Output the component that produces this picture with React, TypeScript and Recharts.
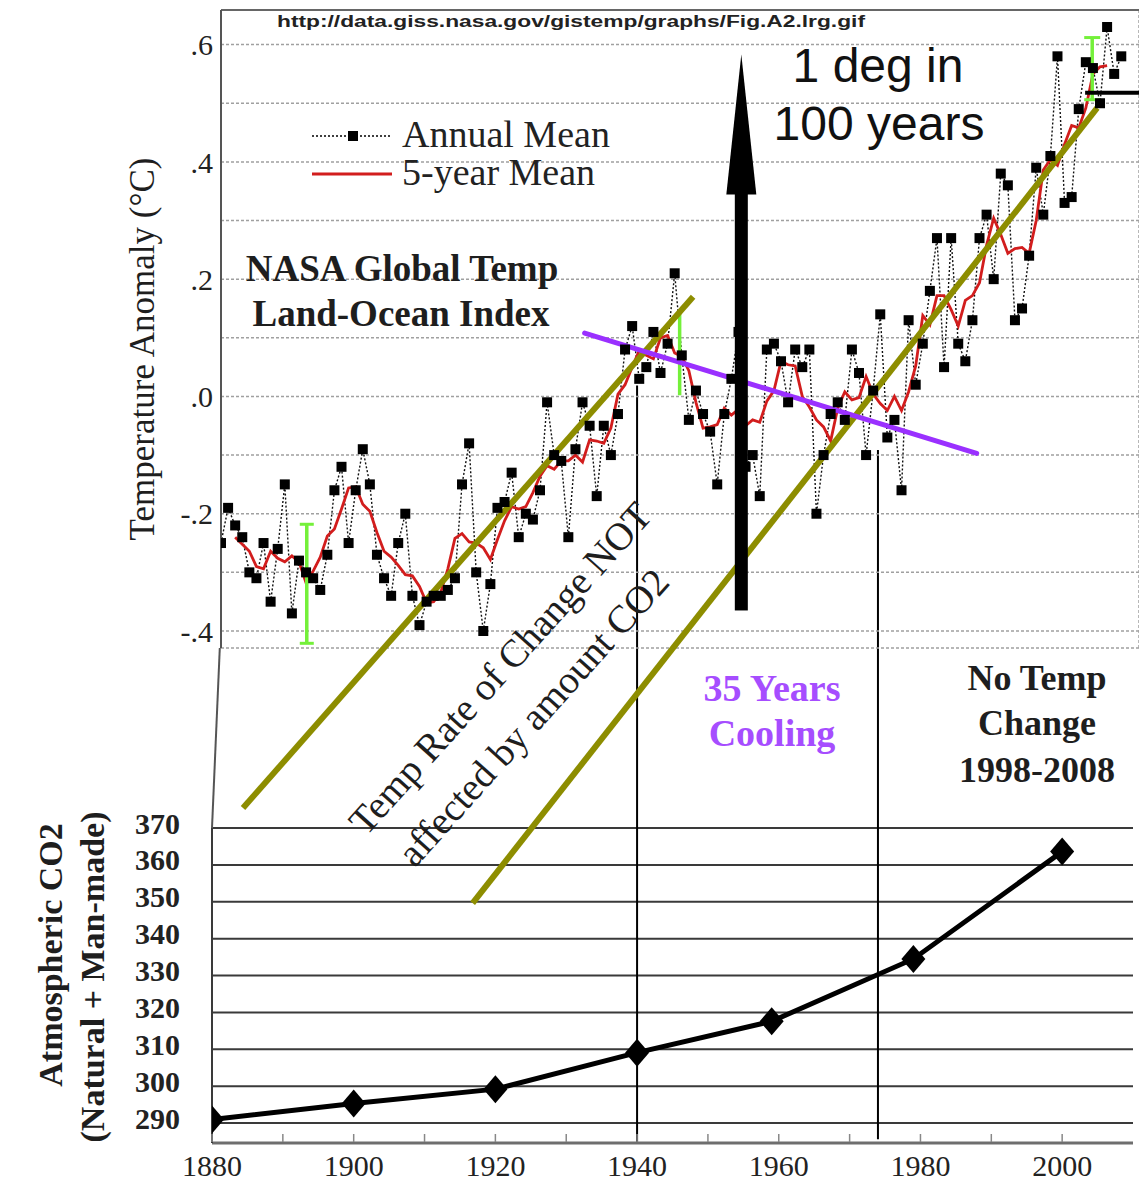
import React from "react";
import {
  ComposedChart,
  Line,
  XAxis,
  YAxis,
  CartesianGrid,
  ReferenceLine,
  Legend,
} from "recharts";

const SERIF = '"Liberation Serif", "Times New Roman", Times, serif';
const SANS = '"Liberation Sans", Arial, Helvetica, sans-serif';

const RED = "#d21d1d";
const OLIVE = "#8d8d00";
const PURPLE = "#9a30ff";
const LIME = "#74f03a";

// NASA GISS land-ocean index, annual mean, 1880..2007
const FIRST_YEAR = 1880;
const ANNUAL_MEAN = [
  -0.25, -0.19, -0.22, -0.24, -0.30, -0.31, -0.25, -0.35, -0.26, -0.15,
  -0.37, -0.28, -0.30, -0.31, -0.33, -0.27, -0.16, -0.12, -0.25, -0.16,
  -0.09, -0.15, -0.27, -0.31, -0.34, -0.25, -0.20, -0.34, -0.39, -0.35,
  -0.34, -0.34, -0.33, -0.31, -0.15, -0.08, -0.30, -0.40, -0.32, -0.19,
  -0.18, -0.13, -0.24, -0.20, -0.21, -0.16, -0.01, -0.10, -0.11, -0.24,
  -0.09, -0.01, -0.05, -0.17, -0.05, -0.10, -0.03, 0.08, 0.12, 0.03,
  0.05, 0.11, 0.04, 0.09, 0.21, 0.07, -0.04, 0.01, -0.03, -0.06,
  -0.15, -0.03, 0.03, 0.11, -0.12, -0.10, -0.17, 0.08, 0.09, 0.06,
  -0.01, 0.08, 0.05, 0.08, -0.20, -0.10, -0.03, -0.01, -0.04, 0.08,
  0.04, -0.10, 0.01, 0.14, -0.07, -0.04, -0.16, 0.13, 0.02, 0.09,
  0.18, 0.27, 0.05, 0.27, 0.09, 0.06, 0.13, 0.27, 0.31, 0.20,
  0.38, 0.36, 0.13, 0.15, 0.24, 0.39, 0.31, 0.41, 0.58, 0.33,
  0.34, 0.49, 0.57, 0.56, 0.50, 0.63, 0.55, 0.58,
];

// red 5-year mean, 1882..2005
const FIVE_YEAR_START = 1882;
const FIVE_YEAR_MEAN = [
  -0.240, -0.252, -0.264, -0.290, -0.294, -0.264, -0.276, -0.282,
  -0.272, -0.282, -0.318, -0.298, -0.274, -0.238, -0.226, -0.192, -0.156, -0.154,
  -0.184, -0.196, -0.232, -0.264, -0.274, -0.288, -0.304, -0.306, -0.324, -0.352,
  -0.350, -0.334, -0.294, -0.242, -0.234, -0.248, -0.250, -0.258, -0.278, -0.244,
  -0.212, -0.188, -0.192, -0.188, -0.164, -0.136, -0.118, -0.124, -0.110, -0.110,
  -0.100, -0.112, -0.074, -0.076, -0.080, -0.054, 0.004, 0.020, 0.050, 0.078,
  0.070, 0.064, 0.100, 0.104, 0.074, 0.068, 0.044, -0.010, -0.054, -0.052,
  -0.048, -0.020, -0.032, -0.022, -0.050, -0.040, -0.044, -0.008, 0.010, 0.060,
  0.054, 0.052, 0.000, -0.018, -0.040, -0.052, -0.076, -0.020, 0.008, -0.006,
  -0.002, 0.034, 0.004, -0.012, -0.024, 0.000, -0.024, 0.008, 0.052, 0.138,
  0.122, 0.172, 0.172, 0.148, 0.120, 0.164, 0.172, 0.194, 0.258, 0.304,
  0.276, 0.244, 0.252, 0.254, 0.244, 0.300, 0.386, 0.404, 0.394, 0.430,
  0.462, 0.458, 0.492, 0.550, 0.562, 0.564,
];

// atmospheric CO2 (ppm)
const CO2_YEARS = [1880, 1900, 1920, 1940, 1959, 1979, 2000];
const CO2_PPM = [291, 295.3, 299.2, 309.1, 317.6, 334.5, 363.6];

const TEMP_TICKS = [-0.4, -0.3, -0.2, -0.1, 0, 0.1, 0.2, 0.3, 0.4, 0.5, 0.6];
const TEMP_DOMAIN = [-0.429, 0.659];
const TEMP_YEAR_DOMAIN = [1880, 2009.5];
const TEMP_GRID_YEARS = [1890, 1900, 1910, 1920, 1930, 1940, 1950, 1960, 1970, 1980, 1990, 2000];

const CO2_TICKS = [290, 300, 310, 320, 330, 340, 350, 360, 370];
const CO2_DOMAIN = [284.6, 370];
const CO2_YEAR_DOMAIN = [1880, 2010];
const YEAR_TICKS = [1880, 1890, 1900, 1910, 1920, 1930, 1940, 1950, 1960, 1970, 1980, 1990, 2000];

const tempData = ANNUAL_MEAN.map((v, i) => {
  const year = FIRST_YEAR + i;
  const j = year - FIVE_YEAR_START;
  return {
    year,
    annual: v,
    mean5: j >= 0 && j < FIVE_YEAR_MEAN.length ? FIVE_YEAR_MEAN[j] : null,
  };
});

const co2Data = CO2_YEARS.map((year, i) => ({ year, ppm: CO2_PPM[i] }));

const fmtTemp = (v: number) => {
  if (Math.round(v * 10) % 2 !== 0) return "";
  return v.toFixed(1).replace("0.", ".");
};

const SquareDot = (props: any) => {
  const { cx, cy, index } = props;
  if (cx == null || cy == null) return null;
  return <rect key={`sq-${index}`} x={cx - 5} y={cy - 5} width={10} height={10} fill="#000" />;
};

const DiamondDot = (props: any) => {
  const { cx, cy, index } = props;
  if (cx == null || cy == null) return null;
  return (
    <polygon
      key={`dm-${index}`}
      points={`${cx},${cy - 14} ${cx + 12},${cy} ${cx},${cy + 14} ${cx - 12},${cy}`}
      fill="#000"
    />
  );
};

const errorBar = (cap: number) => (p: any) => (
  <g>
    <line x1={p.x1} y1={p.y1} x2={p.x2} y2={p.y2} stroke={LIME} strokeWidth={3.5} />
    {cap > 0 && (
      <>
        <line x1={p.x1 - cap} y1={p.y1} x2={p.x1 + cap} y2={p.y1} stroke={LIME} strokeWidth={3} />
        <line x1={p.x2 - cap} y1={p.y2} x2={p.x2 + cap} y2={p.y2} stroke={LIME} strokeWidth={3} />
      </>
    )}
  </g>
);

const arrowShape = (p: any) => {
  const x = p.x1;
  const tip = Math.min(p.y1, p.y2);
  const bottom = Math.max(p.y1, p.y2);
  const headLen = 140;
  return (
    <g>
      <rect x={x - 6.5} y={tip + headLen - 2} width={13} height={bottom - tip - headLen + 2} fill="#000" />
      <polygon points={`${x},${tip} ${x + 15},${tip + headLen} ${x - 15},${tip + headLen}`} fill="#000" />
    </g>
  );
};

const YearTick = (props: any) => {
  const { x, y, payload } = props;
  const year = payload.value;
  return (
    <g>
      <line x1={x} y1={y - 9} x2={x} y2={y - 1} stroke="#888" strokeWidth={1.5} />
      {year % 20 === 0 && (
        <text x={x} y={y + 33} textAnchor="middle" fontFamily={SERIF} fontSize={30} fill="#222">
          {year}
        </text>
      )}
    </g>
  );
};

const Co2Tick = (props: any) => {
  const { x, y, payload } = props;
  return (
    <text
      x={x - 32}
      y={y - 5}
      textAnchor="end"
      dominantBaseline="central"
      fontFamily={SERIF}
      fontWeight="bold"
      fontSize={30}
      fill="#222"
    >
      {payload.value}
    </text>
  );
};

const renderLegend = () => (
  <svg width={330} height={84} style={{ display: "block", overflow: "visible" }}>
    <line x1={2} y1={22} x2={82} y2={22} stroke="#000" strokeWidth={1.5} strokeDasharray="2 2" />
    <rect x={38} y={17} width={10} height={10} fill="#000" />
    <text x={92} y={33} fontFamily={SERIF} fontSize={38} fill="#222">Annual Mean</text>
    <line x1={2} y1={60} x2={82} y2={60} stroke={RED} strokeWidth={3} />
    <text x={92} y={71} fontFamily={SERIF} fontSize={38} fill="#222">5-year Mean</text>
  </svg>
);

const textStyle = { fontFamily: SERIF, fill: "#1e1e1e" };

export default function App() {
  return (
    <div
      style={{
        position: "absolute",
        left: 0,
        top: 0,
        width: 1139,
        height: 1182,
        background: "#fff",
        overflow: "hidden",
      }}
    >
      {/* lower panel: atmospheric CO2 */}
      <div style={{ position: "absolute", left: 0, top: 0 }}>
        <ComposedChart
          width={1139}
          height={1182}
          data={co2Data}
          margin={{ top: 828, right: 6, bottom: 0, left: 152 }}
        >
          <CartesianGrid vertical={false} stroke="#3a3a3a" strokeWidth={2} />
          <XAxis
            type="number"
            dataKey="year"
            domain={CO2_YEAR_DOMAIN}
            ticks={YEAR_TICKS}
            tick={<YearTick />}
            tickLine={false}
            tickSize={0}
            tickMargin={0}
            height={39}
            axisLine={{ stroke: "#6e6e6e", strokeWidth: 3 }}
            allowDataOverflow
          />
          <YAxis
            type="number"
            domain={CO2_DOMAIN}
            ticks={CO2_TICKS}
            tick={<Co2Tick />}
            tickLine={false}
            tickSize={0}
            tickMargin={0}
            width={60}
            axisLine={{ stroke: "#3a3a3a", strokeWidth: 2 }}
            allowDataOverflow
          />
          <ReferenceLine
            segment={[{ x: 1880, y: 370 }, { x: 1881.1, y: 418.8 }]}
            stroke="#555"
            strokeWidth={2}
            ifOverflow="visible"
          />
          <ReferenceLine
            segment={[{ x: 1940, y: CO2_DOMAIN[0] }, { x: 1940, y: 490 }]}
            stroke="#000"
            strokeWidth={2}
            ifOverflow="visible"
          />
          <ReferenceLine
            segment={[{ x: 1974, y: CO2_DOMAIN[0] + 1 }, { x: 1974, y: 472.5 }]}
            stroke="#000"
            strokeWidth={2}
            ifOverflow="visible"
          />
          <Line
            type="linear"
            dataKey="ppm"
            stroke="#000"
            strokeWidth={5}
            dot={<DiamondDot />}
            activeDot={false}
            isAnimationActive={false}
          />
        </ComposedChart>
      </div>

      {/* upper panel: GISS temperature */}
      <div style={{ position: "absolute", left: 0, top: 0 }}>
        <ComposedChart
          width={1139}
          height={1182}
          data={tempData}
          margin={{ top: 10, right: 0, bottom: 534, left: 161 }}
        >
          <CartesianGrid stroke="#a0a0a0" strokeWidth={1.5} strokeDasharray="3 2" />
          <XAxis
            type="number"
            dataKey="year"
            domain={TEMP_YEAR_DOMAIN}
            ticks={TEMP_GRID_YEARS}
            tick={false}
            tickLine={false}
            axisLine={false}
            height={0}
            allowDataOverflow
          />
          <YAxis
            type="number"
            domain={TEMP_DOMAIN}
            ticks={TEMP_TICKS}
            tickFormatter={fmtTemp}
            tick={{ fontFamily: SERIF, fontSize: 30, fill: "#222" }}
            tickLine={false}
            tickSize={0}
            tickMargin={8}
            width={60}
            axisLine={{ stroke: "#555", strokeWidth: 2 }}
            allowDataOverflow
          />
          <ReferenceLine y={TEMP_DOMAIN[1]} stroke="#666" strokeWidth={2} ifOverflow="visible" />
          <Legend
            layout="vertical"
            align="center"
            verticalAlign="middle"
            content={renderLegend}
            wrapperStyle={{ left: 310, top: 114, width: 340, height: 84 }}
          />
          <Line
            type="linear"
            dataKey="annual"
            stroke="#111"
            strokeWidth={1.4}
            strokeDasharray="2 2"
            dot={<SquareDot />}
            activeDot={false}
            isAnimationActive={false}
          />
          <Line
            type="linear"
            dataKey="mean5"
            stroke={RED}
            strokeWidth={2.8}
            dot={false}
            activeDot={false}
            connectNulls={false}
            isAnimationActive={false}
          />
          {/* green uncertainty bars */}
          <ReferenceLine
            segment={[{ x: 1892.1, y: -0.218 }, { x: 1892.1, y: -0.421 }]}
            shape={errorBar(7)}
            ifOverflow="visible"
          />
          <ReferenceLine
            segment={[{ x: 1944.7, y: 0.142 }, { x: 1944.7, y: 0.002 }]}
            shape={errorBar(0)}
            ifOverflow="visible"
          />
          <ReferenceLine
            segment={[{ x: 2002.9, y: 0.612 }, { x: 2002.9, y: 0.506 }]}
            shape={errorBar(8)}
            ifOverflow="visible"
          />
          {/* trend annotations */}
          <ReferenceLine
            segment={[{ x: 1883.1, y: -0.702 }, { x: 1946.6, y: 0.17 }]}
            stroke={OLIVE}
            strokeWidth={6}
            ifOverflow="visible"
          />
          <ReferenceLine
            segment={[{ x: 1915.5, y: -0.864 }, { x: 2003.6, y: 0.492 }]}
            stroke={OLIVE}
            strokeWidth={6}
            ifOverflow="visible"
          />
          <ReferenceLine
            segment={[{ x: 1931.3, y: 0.108 }, { x: 1986.6, y: -0.097 }]}
            stroke={PURPLE}
            strokeWidth={5}
            strokeLinecap="round"
            ifOverflow="visible"
          />
          <ReferenceLine
            segment={[{ x: 2001.9, y: 0.518 }, { x: 2009.5, y: 0.518 }]}
            stroke="#000"
            strokeWidth={4}
            ifOverflow="visible"
          />
          <ReferenceLine
            segment={[{ x: 1953.4, y: -0.365 }, { x: 1953.4, y: 0.583 }]}
            shape={arrowShape}
            ifOverflow="visible"
          />

          <text x={571} y={27} textAnchor="middle" fontFamily={SANS} fontWeight="bold" fontSize={16} fill="#222" textLength={588} lengthAdjust="spacingAndGlyphs">
            http://data.giss.nasa.gov/gistemp/graphs/Fig.A2.lrg.gif
          </text>
          <text x={878} y={82} textAnchor="middle" fontFamily={SANS} fontSize={48} fill="#111">1 deg in</text>
          <text x={879} y={140} textAnchor="middle" fontFamily={SANS} fontSize={48} fill="#111">100 years</text>
          <text x={402} y={281} textAnchor="middle" fontSize={37} fontWeight="bold" style={textStyle}>NASA Global Temp</text>
          <text x={401} y={326} textAnchor="middle" fontSize={37} fontWeight="bold" style={textStyle}>Land-Ocean Index</text>
          <text
            x={142}
            y={349}
            textAnchor="middle"
            dominantBaseline="central"
            fontSize={35}
            style={textStyle}
            transform="rotate(-90 142 349)"
          >
            Temperature Anomaly (°C)
          </text>
          <text x={500} y={668} textAnchor="middle" dominantBaseline="central" fontSize={39} style={textStyle} transform="rotate(-48 500 668)">
            Temp Rate of Change NOT
          </text>
          <text x={533} y={717} textAnchor="middle" dominantBaseline="central" fontSize={39} style={textStyle} transform="rotate(-48 533 717)">
            affected by amount CO2
          </text>
          <text x={772} y={701} textAnchor="middle" fontSize={38} fontWeight="bold" fontFamily={SERIF} fill="#a64dff">35 Years</text>
          <text x={772} y={746} textAnchor="middle" fontSize={38} fontWeight="bold" fontFamily={SERIF} fill="#a64dff">Cooling</text>
          <text x={1037} y={690} textAnchor="middle" fontSize={36} fontWeight="bold" style={textStyle}>No Temp</text>
          <text x={1037} y={735} textAnchor="middle" fontSize={36} fontWeight="bold" style={textStyle}>Change</text>
          <text x={1037} y={782} textAnchor="middle" fontSize={36} fontWeight="bold" style={textStyle}>1998-2008</text>
          <text x={50} y={955} textAnchor="middle" dominantBaseline="central" fontSize={34} fontWeight="bold" style={textStyle} transform="rotate(-90 50 955)">
            Atmospheric CO2
          </text>
          <text x={92} y={977} textAnchor="middle" dominantBaseline="central" fontSize={34} fontWeight="bold" style={textStyle} transform="rotate(-90 92 977)">
            (Natural + Man-made)
          </text>
        </ComposedChart>
      </div>
    </div>
  );
}
